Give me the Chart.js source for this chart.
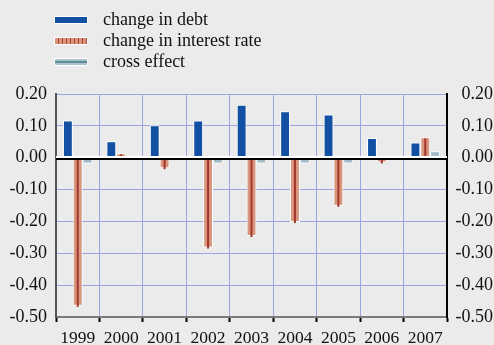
<!DOCTYPE html>
<html>
<head>
<meta charset="utf-8">
<script src="https://cdn.jsdelivr.net/npm/chart.js@4.4.1/dist/chart.umd.min.js"></script>
<style>
  html, body { margin: 0; padding: 0; background: #ebebeb; }
  #wrap { position: relative; width: 494px; height: 345px; }
  #legend { position: absolute; left: 54px; top: 9px; font-family: "Liberation Serif", serif; font-size: 18px; color: #111; }
  #legend .item { display: flex; align-items: center; height: 21px; }
  #legend .sw { width: 32px; height: 6px; border: 1px solid #fff; margin-right: 15px; }
</style>
</head>
<body>
<div id="wrap">
  <canvas id="chart" width="494" height="345"></canvas>
  <div id="legend"></div>
</div>
<script>
const years = ['1999', '2000', '2001', '2002', '2003', '2004', '2005', '2006', '2007'];
const changeInDebt = [0.117, 0.052, 0.102, 0.117, 0.166, 0.146, 0.136, 0.062, 0.048];
const changeInRate = [-0.465, 0.014, -0.033, -0.282, -0.246, -0.202, -0.151, -0.015, 0.064];
const crossEffect = [-0.018, 0, 0, -0.018, -0.018, -0.018, -0.018, 0, 0.02];
const yTicks = [0.2, 0.1, 0, -0.1, -0.2, -0.3, -0.4, -0.5];

const serif = '"Liberation Serif", "Times New Roman", serif';
const gridBlue = '#9aa6e2';

// swatch styles for the html legend
const swatches = [
  'background:#1250a3',
  'background:repeating-linear-gradient(90deg,#d9957e 0 3px,#b0402f 3px 4px)',
  'background:linear-gradient(#adc2cd 0 35%,#5d8d9a 35% 65%,#adc2cd 65%)'
];

// zero line on top of bars + dark centre line of the interest-rate bars
const overlay = {
  id: 'overlay',
  afterDatasetsDraw(chart) {
    const ctx = chart.ctx;
    const area = chart.chartArea;
    ctx.save();
    ctx.strokeStyle = '#a3372b';
    ctx.lineWidth = 2;
    chart.getDatasetMeta(1).data.forEach(bar => {
      if (Math.abs(bar.base - bar.y) < 3) return;
      ctx.beginPath();
      ctx.moveTo(bar.x, bar.y + 1);
      ctx.lineTo(bar.x, bar.base);
      ctx.stroke();
    });
    const y0 = Math.round(chart.scales.y.getPixelForValue(0));
    ctx.fillStyle = '#fff';
    ctx.fillRect(area.left, y0 - 2, area.right - area.left, 2);
    ctx.fillStyle = '#000';
    ctx.fillRect(area.left, y0, area.right - area.left, 2);
    ctx.restore();
  }
};

const yCommon = {
  min: -0.5,
  max: 0.2,
  afterBuildTicks: s => { s.ticks = yTicks.map(v => ({ value: v })); },
  ticks: {
    callback: v => v.toFixed(2),
    color: '#111',
    font: { family: serif, size: 18 },
    padding: 9
  }
};

const chart = new Chart(document.getElementById('chart'), {
  type: 'bar',
  data: {
    labels: years,
    datasets: [
      { label: 'change in debt', data: changeInDebt, backgroundColor: '#1250a3', borderColor: '#fff', borderWidth: 1 },
      { label: 'change in interest rate', data: changeInRate, backgroundColor: '#d9957e', borderColor: '#fff', borderWidth: 1 },
      { label: 'cross effect', data: crossEffect, backgroundColor: '#a3bac8', borderColor: '#fff', borderWidth: 1 }
    ]
  },
  options: {
    responsive: false,
    animation: false,
    layout: { padding: { top: 94, left: 0, right: 1, bottom: 0 } },
    datasets: { bar: { categoryPercentage: 0.68, barPercentage: 1.0 } },
    plugins: { legend: { display: false }, tooltip: { enabled: false } },
    scales: {
      x: {
        afterFit: s => { s.height = 28; },
        grid: { offset: true, color: gridBlue, lineWidth: 1, tickLength: 5, tickColor: '#000', tickWidth: 2 },
        border: { color: '#7a7a7a', width: 2 },
        ticks: { color: '#111', font: { family: serif, size: 17.5 }, padding: 6, maxRotation: 0 }
      },
      y: Object.assign({}, yCommon, {
        position: 'left',
        afterFit: s => { s.width = 56; },
        grid: { color: gridBlue, lineWidth: 1, drawTicks: false },
        border: { color: '#555', width: 2 }
      }),
      y2: Object.assign({}, yCommon, {
        position: 'right',
        afterFit: s => { s.width = 46; },
        grid: { drawOnChartArea: false, drawTicks: false },
        border: { color: '#000', width: 2 },
        ticks: Object.assign({}, yCommon.ticks, { crossAlign: 'far' })
      })
    }
  },
  plugins: [overlay]
});

// html legend built from the chart's datasets
const legend = document.getElementById('legend');
chart.data.datasets.forEach((ds, i) => {
  const row = document.createElement('div');
  row.className = 'item';
  const sw = document.createElement('span');
  sw.className = 'sw';
  sw.style.cssText = swatches[i];
  const txt = document.createElement('span');
  txt.textContent = ds.label;
  row.appendChild(sw);
  row.appendChild(txt);
  legend.appendChild(row);
});
</script>
</body>
</html>
